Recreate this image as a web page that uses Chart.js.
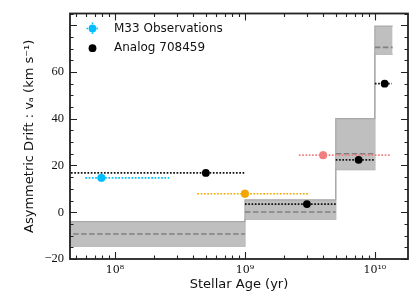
<!DOCTYPE html>
<html>
<head>
<meta charset="utf-8">
<script src="https://cdn.jsdelivr.net/npm/chart.js@4.4.0/dist/chart.umd.min.js"></script>
<style>
  body { margin: 0; background: #fff; }
  canvas { display: block; }
</style>
</head>
<body>
<canvas id="drift-chart" width="416" height="301"></canvas>
<script>
// age bins of the analog (gray boxes)
const binEdges = [1e7, 1e9, 5e9, 1e10, 1.37e10]
const binUpper = [-4.0, 5.3, 40.0, 79.6]
const binLower = [-14.5, -3.0, 18.2, 67.6]
const binMid = [-9.3, 0.1, 25.0, 70.5]

// Analog 708459
const analogAge = [5.0e8, 3.0e9, 7.5e9, 1.19e10]
const analogVa = [16.8, 3.5, 22.4, 55.0]
const analogLo = [1e7, 1e9, 5e9, 1e10]
const analogHi = [1e9, 5e9, 1e10, 1.35e10]

// M33 observations
const obsAge = [7.85e7, 1.0e9, 4.0e9]
const obsVa = [14.7, 7.9, 24.4]
const obsLo = [5.9e7, 4.3e8, 2.6e9]
const obsHi = [2.6e8, 3.1e9, 1.32e10]
const obsColors = ['#00bfff', '#f5a500', '#f08080']

const xMajor = [1e8, 1e9, 1e10]
const supDigits = {'0':'⁰','1':'¹','2':'²','3':'³','4':'⁴','5':'⁵','6':'⁶','7':'⁷','8':'⁸','9':'⁹'}

function stepPoints(vals) {
  return binEdges.map((e, i) => ({x: e, y: vals[Math.min(i, vals.length - 1)]}))
}

function segments(lo, hi, vals) {
  let pts = []
  vals.forEach((v, i) => {
    pts.push({x: lo[i], y: v}, {x: hi[i], y: v}, {x: hi[i], y: null})
  })
  return pts
}

// note: higher "order" gets drawn first (underneath)
let datasets = [
  {
    label: 'upper', data: stepPoints(binUpper), stepped: true, order: 10,
    borderColor: '#a8a8a8', borderWidth: 1.2, backgroundColor: '#bfbfbf',
    fill: '+1', pointRadius: 0
  },
  {
    label: 'lower', data: stepPoints(binLower), stepped: true, order: 11,
    borderColor: '#a8a8a8', borderWidth: 1.2, fill: false, pointRadius: 0
  },
  {
    label: 'median', data: segments(binEdges.slice(0, 4), binEdges.slice(1), binMid), order: 8,
    borderColor: '#808080', borderWidth: 1.6, borderDash: [5.5, 2.5],
    pointRadius: 0, spanGaps: false, fill: false
  },
  {
    label: 'analog err', data: segments(analogLo, analogHi, analogVa), order: 5,
    borderColor: '#111', borderWidth: 1.8, borderDash: [1.7, 1.6],
    pointRadius: 0, spanGaps: false, fill: false
  }
]

obsAge.forEach((a, i) => {
  datasets.push({
    label: 'obs err', data: [{x: obsLo[i], y: obsVa[i]}, {x: obsHi[i], y: obsVa[i]}], order: 6,
    borderColor: obsColors[i], borderWidth: 1.7, borderDash: [1.7, 1.6],
    pointRadius: 0, fill: false
  })
})

datasets.push({
  label: 'M33 Observations', order: 2,
  data: obsAge.map((a, i) => ({x: a, y: obsVa[i]})),
  showLine: false, pointRadius: 3.9, pointBorderWidth: 0.8,
  pointBackgroundColor: obsColors, pointBorderColor: obsColors.map(c => c + '99')
})
datasets.push({
  label: 'Analog 708459', order: 1,
  data: analogAge.map((a, i) => ({x: a, y: analogVa[i]})),
  showLine: false, pointRadius: 3.9, pointBorderWidth: 0,
  pointBackgroundColor: '#000', pointBorderColor: '#000'
})

const frameAndTicks = {
  id: 'frameAndTicks',
  afterDraw(chart) {
    const {ctx, chartArea: a, scales: {x, y}} = chart
    ctx.save()
    ctx.strokeStyle = '#222'
    ctx.lineWidth = 1.1
    ctx.beginPath()
    // x ticks (inward, bottom and top)
    for (let e = 7; e <= 10; e++) {
      for (let k = 1; k <= 9; k++) {
        const v = k * Math.pow(10, e)
        if (v < x.min || v > x.max) continue
        const px = Math.round(x.getPixelForValue(v)) + 0.5
        const len = k === 1 ? 7 : 3.5
        ctx.moveTo(px, a.bottom); ctx.lineTo(px, a.bottom - len)
        ctx.moveTo(px, a.top); ctx.lineTo(px, a.top + len)
      }
    }
    // y ticks
    for (let v = -20; v <= 85; v += 5) {
      const py = Math.round(y.getPixelForValue(v)) + 0.5
      const len = v % 20 === 0 ? 7 : 3.5
      ctx.moveTo(a.left, py); ctx.lineTo(a.left + len, py)
      ctx.moveTo(a.right, py); ctx.lineTo(a.right - len, py)
    }
    ctx.stroke()
    ctx.lineWidth = 1.8
    ctx.strokeRect(a.left, a.top, a.right - a.left, a.bottom - a.top)

    // legend
    const obsSet = chart.data.datasets.find(d => d.label === 'M33 Observations')
    const anaSet = chart.data.datasets.find(d => d.label === 'Analog 708459')
    const mx = a.left + 22.5
    const rows = [a.top + 15, a.top + 34.7]
    ctx.strokeStyle = obsColors[0]
    ctx.lineWidth = 1.5
    ctx.setLineDash([1.5, 1.8])
    ctx.beginPath()
    ctx.moveTo(mx - 6, rows[0]); ctx.lineTo(mx + 6, rows[0])
    ctx.moveTo(mx, rows[0] - 6); ctx.lineTo(mx, rows[0] + 6)
    ctx.stroke()
    ctx.setLineDash([])
    ctx.fillStyle = obsColors[0]
    ctx.beginPath(); ctx.arc(mx, rows[0], 3.9, 0, Math.PI * 2); ctx.fill()
    ctx.fillStyle = '#000'
    ctx.beginPath(); ctx.arc(mx, rows[1], 3.9, 0, Math.PI * 2); ctx.fill()
    ctx.font = '12px "DejaVu Sans"'
    ctx.textBaseline = 'middle'
    ctx.fillStyle = '#111'
    ctx.fillText(obsSet.label, a.left + 44, rows[0])
    ctx.fillText(anaSet.label, a.left + 44, rows[1])
    ctx.restore()
  }
}

let driftChart = new Chart(document.getElementById('drift-chart'), {
  type: 'line',
  data: {datasets: datasets},
  options: {
    responsive: false,
    animation: false,
    layout: {padding: {left: 0, right: 8, top: 7, bottom: 0}},
    plugins: {legend: {display: false}, tooltip: {enabled: false}},
    scales: {
      x: {
        type: 'logarithmic', min: 4.5e7, max: 1.8e10,
        grid: {display: false, drawTicks: false},
        border: {display: false},
        afterFit: s => { s.height = 42 },
        afterBuildTicks: s => { s.ticks = xMajor.map(v => ({value: v})) },
        ticks: {
          padding: 5, color: '#111', maxRotation: 0, autoSkip: false,
          font: {family: '"DejaVu Serif"', size: 11},
          callback: v => '10' + String(Math.round(Math.log10(v))).split('').map(c => supDigits[c]).join('')
        },
        title: {
          display: true, text: 'Stellar Age (yr)', color: '#111',
          font: {family: '"DejaVu Sans"', size: 13}, padding: {top: 0, bottom: 9}
        }
      },
      y: {
        type: 'linear', min: -20, max: 85,
        grid: {display: false, drawTicks: false},
        border: {display: false},
        afterFit: s => { s.width = 70 },
        afterBuildTicks: s => { s.ticks = s.ticks.filter(t => t.value % 20 === 0) },
        ticks: {
          padding: 6, color: '#111',
          font: {family: '"Liberation Serif"', size: 12.5},
          callback: v => (v < 0 ? '−' + Math.abs(v) : String(v))
        },
        title: {
          display: true, text: 'Asymmetric Drift : vₐ (km s⁻¹)', color: '#111',
          font: {family: '"DejaVu Sans"', size: 13}, padding: {top: 22, bottom: 0}
        }
      }
    }
  },
  plugins: [frameAndTicks]
})
</script>
</body>
</html>
